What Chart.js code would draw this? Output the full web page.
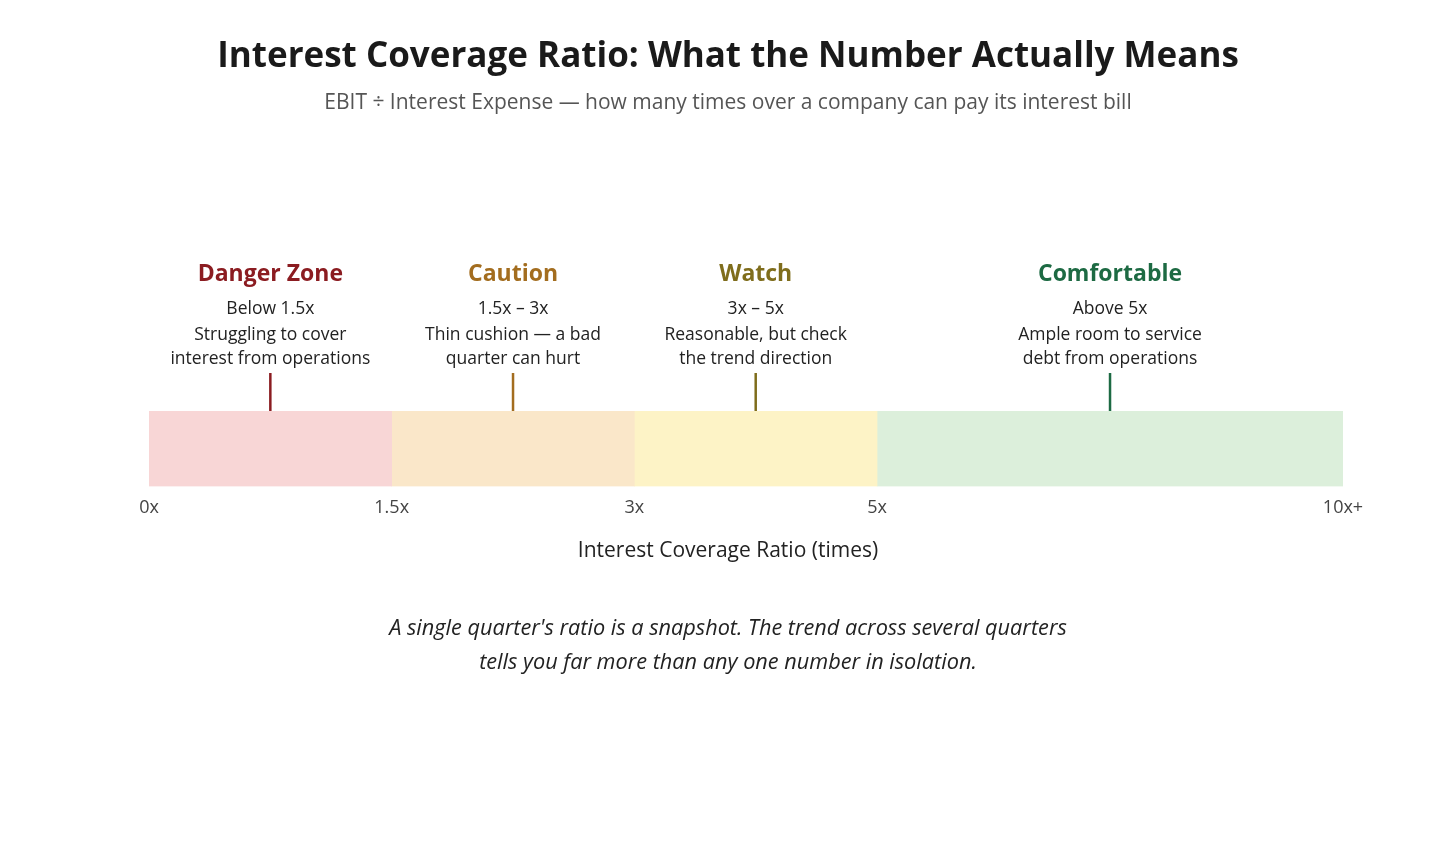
<!DOCTYPE html>
<html>
<head>
<meta charset="utf-8">
<script src="https://cdn.jsdelivr.net/npm/chart.js@4.4.1/dist/chart.umd.min.js"></script>
<style>
html,body{margin:0;padding:0;background:#fff;}
canvas{display:block;}
</style>
</head>
<body>
<canvas id="c" width="1456" height="859"></canvas>
<script>
// ---- data ----
const zoneNames = ['Danger Zone', 'Caution', 'Watch', 'Comfortable'];
const zoneRanges = ['Below 1.5x', '1.5x \u2013 3x', '3x \u2013 5x', 'Above 5x'];
const zoneNotes1 = ['Struggling to cover', 'Thin cushion \u2014 a bad', 'Reasonable, but check', 'Ample room to service'];
const zoneNotes2 = ['interest from operations', 'quarter can hurt', 'the trend direction', 'debt from operations'];
// positions of zone boundaries on the (non-linear) display scale
const zoneStart = [0, 1, 2, 3];
const zoneEnd = [1, 2, 3, 4.92];
const tickPositions = [0, 1, 2, 3, 4.92];
const tickLabels = ['0x', '1.5x', '3x', '5x', '10x+'];
const fillColors = ['#f8d6d6', '#fae7c9', '#fdf3c6', '#dcefdb'];
const darkColors = ['#8b1c21', '#a36d1f', '#7f6d1c', '#1d6a43'];

const titleText = 'Interest Coverage Ratio: What the Number Actually Means';
const subtitleText = 'EBIT \u00f7 Interest Expense \u2014 how many times over a company can pay its interest bill';
const axisTitleText = 'Interest Coverage Ratio (times)';
const footLines = ["A single quarter's ratio is a snapshot. The trend across several quarters",
                   'tells you far more than any one number in isolation.'];

const FONT = '"Open Sans", "Noto Sans", sans-serif';

const textPlugin = {
  id: 'texts',
  afterDraw(chart) {
    const ctx = chart.ctx;
    const xs = chart.scales.x;
    const top = chart.chartArea.top;
    const W = chart.width;
    ctx.save();
    ctx.textAlign = 'center';
    ctx.textBaseline = 'middle';
    ctx.fillStyle = '#1a1a1a';
    ctx.font = 'bold 35px ' + FONT;
    ctx.fillText(titleText, W / 2, 57);
    ctx.fillStyle = '#555';
    ctx.font = '21px ' + FONT;
    ctx.fillText(subtitleText, W / 2, 103);

    for (let i = 0; i < zoneNames.length; i++) {
      const cx = xs.getPixelForValue((zoneStart[i] + zoneEnd[i]) / 2);
      ctx.fillStyle = darkColors[i];
      ctx.font = 'bold 23px ' + FONT;
      ctx.fillText(zoneNames[i], cx, top - 137);
      ctx.fillStyle = '#222';
      ctx.font = '17.5px ' + FONT;
      ctx.fillText(zoneRanges[i], cx, top - 102);
      ctx.fillText(zoneNotes1[i], cx, top - 76);
      ctx.fillText(zoneNotes2[i], cx, top - 52);
      ctx.strokeStyle = darkColors[i];
      ctx.lineWidth = 2.5;
      ctx.beginPath();
      ctx.moveTo(cx, top - 38);
      ctx.lineTo(cx, top);
      ctx.stroke();
    }

    ctx.fillStyle = '#222';
    ctx.font = '21px ' + FONT;
    ctx.fillText(axisTitleText, W / 2, 551);

    ctx.font = 'italic 21.7px ' + FONT;
    ctx.fillText(footLines[0], W / 2, 629);
    ctx.fillText(footLines[1], W / 2, 663);
    ctx.restore();
  }
};

new Chart(document.getElementById('c'), {
  type: 'bar',
  data: {
    labels: ['ICR'],
    datasets: zoneNames.map((n, i) => ({
      label: n,
      data: [[zoneStart[i], zoneEnd[i]]],
      backgroundColor: fillColors[i],
      borderWidth: 0,
      grouped: false,
      barPercentage: 1,
      categoryPercentage: 1
    }))
  },
  options: {
    indexAxis: 'y',
    responsive: false,
    animation: false,
    devicePixelRatio: 1,
    layout: { padding: { left: 149, right: 113, top: 411, bottom: 329 } },
    plugins: { legend: { display: false }, tooltip: { enabled: false }, title: { display: false } },
    scales: {
      y: { display: false },
      x: {
        type: 'linear',
        min: tickPositions[0],
        max: tickPositions[tickPositions.length - 1],
        border: { display: false },
        grid: { display: false, drawTicks: false },
        afterBuildTicks(scale) { scale.ticks = tickPositions.map(v => ({ value: v })); },
        ticks: {
          autoSkip: false,
          maxRotation: 0,
          padding: 11,
          color: '#444',
          font: { family: FONT, size: 18 },
          callback(value) { const k = tickPositions.indexOf(value); return k >= 0 ? tickLabels[k] : ''; }
        },
        title: { display: false }
      }
    }
  },
  plugins: [textPlugin]
});
</script>
</body>
</html>
